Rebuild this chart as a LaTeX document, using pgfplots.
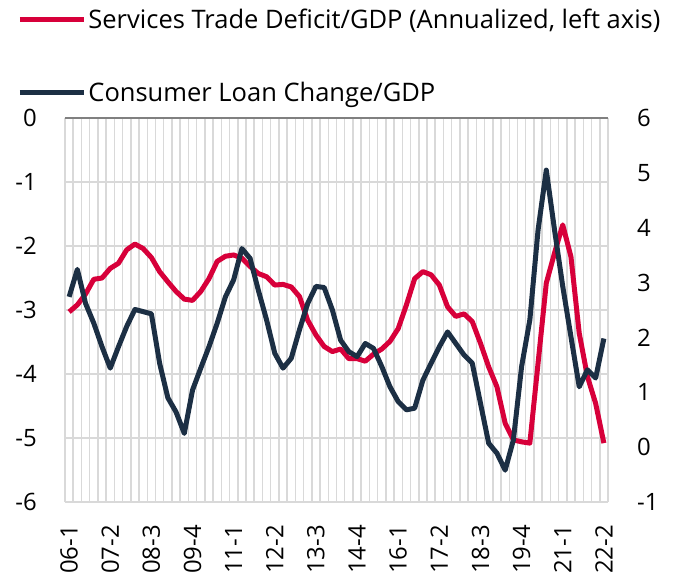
\documentclass[border=0pt]{standalone}
\usepackage{fontspec}
\setmainfont{Open Sans}
\usepackage{pgfplots}
\usepackage{pgfplotstable}
\pgfplotsset{compat=1.18}

\definecolor{tradered}{HTML}{D7003A}
\definecolor{loannavy}{HTML}{1C2F44}
\definecolor{gridgray}{HTML}{D9D9D9}

% quarter index (0 = 2006Q1), services deficit/GDP (left), consumer loan change/GDP (right)
\pgfplotstableread{
i  red    navy
0  -3.03  2.74
1  -2.92  3.24
2  -2.75  2.62
3  -2.52  2.26
4  -2.50  1.83
5  -2.35  1.44
6  -2.27  1.83
7  -2.06  2.20
8  -1.97  2.51
9  -2.04  2.47
10 -2.18  2.43
11 -2.40  1.53
12 -2.56  0.90
13 -2.71  0.64
14 -2.83  0.25
15 -2.85  1.04
16 -2.71  1.44
17 -2.51  1.83
18 -2.24  2.26
19 -2.16  2.74
20 -2.14  3.05
21 -2.19  3.62
22 -2.32  3.44
23 -2.43  2.86
24 -2.48  2.32
25 -2.61  1.71
26 -2.60  1.44
27 -2.64  1.62
28 -2.79  2.14
29 -3.16  2.62
30 -3.39  2.93
31 -3.57  2.91
32 -3.65  2.50
33 -3.61  1.95
34 -3.76  1.74
35 -3.76  1.65
36 -3.80  1.89
37 -3.69  1.80
38 -3.61  1.47
39 -3.49  1.10
40 -3.29  0.83
41 -2.92  0.68
42 -2.51  0.71
43 -2.40  1.22
44 -2.45  1.53
45 -2.61  1.83
46 -2.95  2.10
47 -3.10  1.89
48 -3.06  1.68
49 -3.18  1.53
50 -3.52  0.80
51 -3.89  0.07
52 -4.20  -0.11
53 -4.77  -0.42
54 -5.03  0.13
55 -5.06  1.47
56 -5.08  2.32
57 -3.83  3.96
58 -2.58  5.05
59 -2.11  3.96
60 -1.67  2.93
61 -2.17  2.01
62 -3.36  1.10
63 -4.04  1.41
64 -4.46  1.26
65 -5.08  1.98
}\datatable

\pgfplotsset{
  base/.style={
    width=543bp, height=384bp, scale only axis,
    xmin=-0.5, xmax=65.5,
    axis line style={draw=none},
    tick style={draw=none},
    tick label style={font=\fontsize{24}{28}\selectfont, inner sep=0pt},
    /pgf/number format/assume math mode=true,
  },
}

\begin{document}
\begin{tikzpicture}
\begin{axis}[base,
  ymin=-6, ymax=0, ytick={-6,...,0},
  yticklabel shift=28bp,
  xtick={0,5,...,65},
  xticklabels={06-1,07-2,08-3,09-4,11-1,12-2,13-3,14-4,16-1,17-2,18-3,19-4,21-1,22-2},
  x tick label style={rotate=90, anchor=east},
  xticklabel shift=23bp,
  minor xtick={-0.5,0.5,...,65.5},
  xminorgrids, ymajorgrids,
  major grid style={gridgray, line width=1.5bp},
  minor grid style={gridgray, line width=1.5bp},
  extra y ticks={0}, extra y tick labels={},
  extra y tick style={grid=major, major grid style={color=black!50, line width=1.5bp}},
  legend style={at={(-0.088,1.29)}, anchor=north west, draw=none, fill=none,
    font=\fontsize{25.6}{30}\selectfont, row sep=48bp, inner sep=0pt,
    nodes={inner sep=2bp}},
  legend cell align=left,
  legend image code/.code={\draw[#1] (0bp,0bp) -- (64bp,0bp);},
]
\addplot[tradered, line width=5bp, line join=round] table[x=i, y=red] {\datatable};
\addlegendentry{Services Trade Deficit/GDP (Annualized, left axis)}
\addlegendimage{loannavy, line width=5bp}
\addlegendentry{Consumer Loan Change/GDP}
\end{axis}
\begin{axis}[base,
  ymin=-1, ymax=6, ytick={-1,...,6},
  axis y line*=right, axis x line=none,
  yticklabel shift=29bp,
]
\addplot[loannavy, line width=5bp, line join=round] table[x=i, y=navy] {\datatable};
\end{axis}
\pgfresetboundingbox
\useasboundingbox (-65bp,-77bp) rectangle (613bp,502bp);
\end{tikzpicture}
\end{document}
